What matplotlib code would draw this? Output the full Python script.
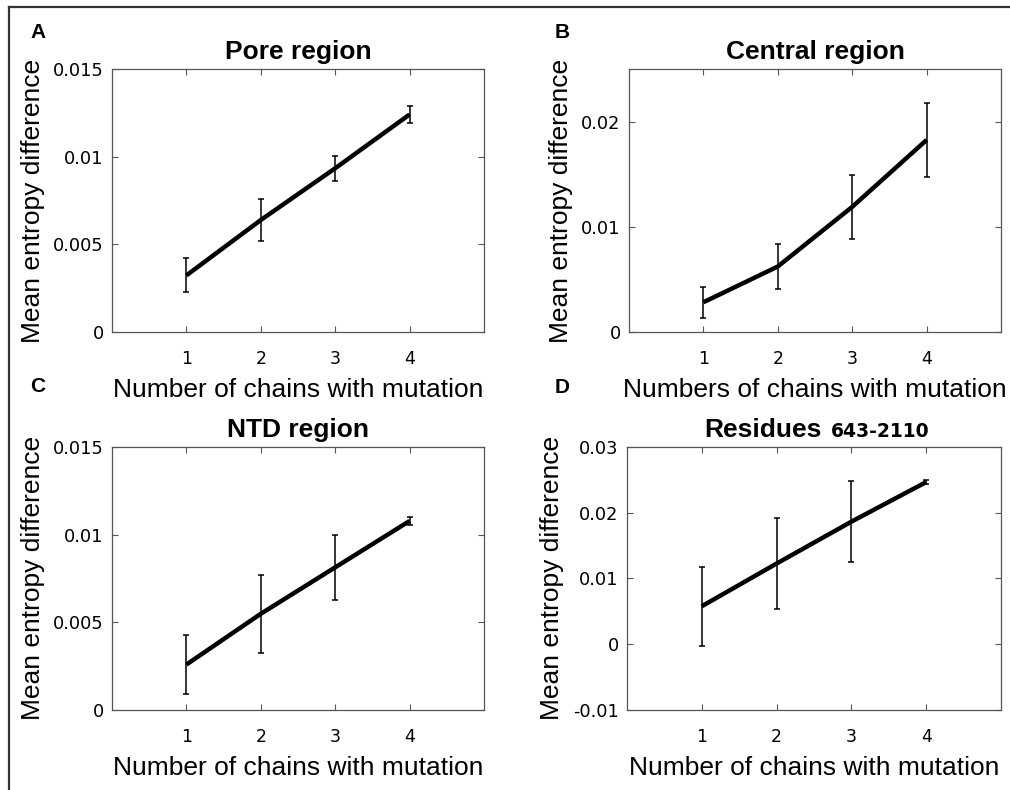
import matplotlib.pyplot as plt
from matplotlib.lines import Line2D

# chains with mutation
chains = [1, 2, 3, 4]

# mean entropy difference and error bar half-lengths
pore_mean = [0.00323, 0.00639, 0.00934, 0.01241]
pore_err = [0.00097, 0.00120, 0.00071, 0.00049]

central_mean = [0.00283, 0.00623, 0.01190, 0.01826]
central_err = [0.00145, 0.00212, 0.00301, 0.00350]

ntd_mean = [0.00258, 0.00548, 0.00813, 0.01078]
ntd_err = [0.00170, 0.00222, 0.00185, 0.00023]

res_mean = [0.00576, 0.01226, 0.01864, 0.02467]
res_err = [0.00600, 0.00690, 0.00612, 0.00030]

pore_yticks = [0, 0.005, 0.01, 0.015]
pore_ylabels = ['0', '0.005', '0.01', '0.015']
central_yticks = [0, 0.01, 0.02]
central_ylabels = ['0', '0.01', '0.02']
ntd_yticks = [0, 0.005, 0.01, 0.015]
ntd_ylabels = ['0', '0.005', '0.01', '0.015']
res_yticks = [-0.01, 0, 0.01, 0.02, 0.03]
res_ylabels = ['-0.01', '0', '0.01', '0.02', '0.03']

LABEL_FONT = 'Liberation Sans'
TICK_FONT = 'DejaVu Sans'
SPINE_C = '#555555'

fig = plt.figure(figsize=(10.1, 7.9), dpi=100)
fig.patch.set_facecolor('white')

# outer frame (only left and top edges visible in the source)
fig.add_artist(Line2D([9 / 1010, 9 / 1010], [0, 1 - 7 / 790], transform=fig.transFigure,
                      color='#333333', lw=1.6))
fig.add_artist(Line2D([9 / 1010, 1], [1 - 7 / 790, 1 - 7 / 790], transform=fig.transFigure,
                      color='#333333', lw=1.6))


def make_panel(rect, mean, err, yticks, ylabels, ylim, title, xlabel):
    ax = fig.add_axes(rect)
    ax.errorbar(chains, mean, yerr=err, fmt='none', ecolor='black', elinewidth=1.1,
                capsize=2.4, capthick=1.1, zorder=2)
    ax.plot(chains, mean, color='black', lw=3.2, solid_capstyle='butt', zorder=3)
    ax.set_xlim(0, 5)
    ax.set_ylim(*ylim)
    ax.set_xticks(chains)
    ax.set_xticklabels([str(c) for c in chains], fontfamily=TICK_FONT, fontsize=12.5)
    ax.set_yticks(yticks)
    ax.set_yticklabels(ylabels, fontfamily=TICK_FONT, fontsize=12.8)
    ax.tick_params(direction='in', top=True, right=True, length=4, width=0.8,
                   color=SPINE_C)
    ax.tick_params(axis='x', pad=13)
    ax.tick_params(axis='y', pad=6)
    for s in ax.spines.values():
        s.set_color(SPINE_C)
        s.set_linewidth(0.9)
    ax.set_xlabel(xlabel, fontfamily=LABEL_FONT, fontsize=19, labelpad=7)
    ax.set_ylabel('Mean entropy difference', fontfamily=LABEL_FONT, fontsize=19, labelpad=6)
    if title is not None:
        ax.set_title(title, fontfamily=LABEL_FONT, fontweight='bold', fontsize=19, pad=7)
    return ax


ax_a = make_panel([0.1109, 0.5797, 0.3683, 0.3329], pore_mean, pore_err,
                  pore_yticks, pore_ylabels, (0, 0.015), 'Pore region',
                  'Number of chains with mutation')
ax_b = make_panel([0.6228, 0.5797, 0.3683, 0.3329], central_mean, central_err,
                  central_yticks, central_ylabels, (0, 0.025), 'Central region',
                  'Numbers of chains with mutation')
ax_c = make_panel([0.1109, 0.1016, 0.3683, 0.3325], ntd_mean, ntd_err,
                  ntd_yticks, ntd_ylabels, (0, 0.015), 'NTD region',
                  'Number of chains with mutation')
ax_d = make_panel([0.6208, 0.1016, 0.3703, 0.3325], res_mean, res_err,
                  res_yticks, res_ylabels, (-0.01, 0.03), None,
                  'Number of chains with mutation')

# title of panel D mixes two typefaces; align both on one baseline
ax_d.text(0.521, 1.04, 'Residues', transform=ax_d.transAxes, ha='right', va='baseline',
          fontfamily=LABEL_FONT, fontweight='bold', fontsize=19)
ax_d.text(0.545, 1.04, '643-2110', transform=ax_d.transAxes, ha='left', va='baseline',
          fontfamily=TICK_FONT, fontweight='bold', fontsize=13.5)

# panel letters
for letter, (x, y) in zip(['A', 'B', 'C', 'D'],
                          [(38, 33), (562, 33), (38, 387), (562, 388)]):
    fig.text(x / 1010, 1 - y / 790, letter, ha='center', va='center',
             fontfamily=LABEL_FONT, fontweight='bold', fontsize=15)

fig.savefig('out.png', dpi=100)
